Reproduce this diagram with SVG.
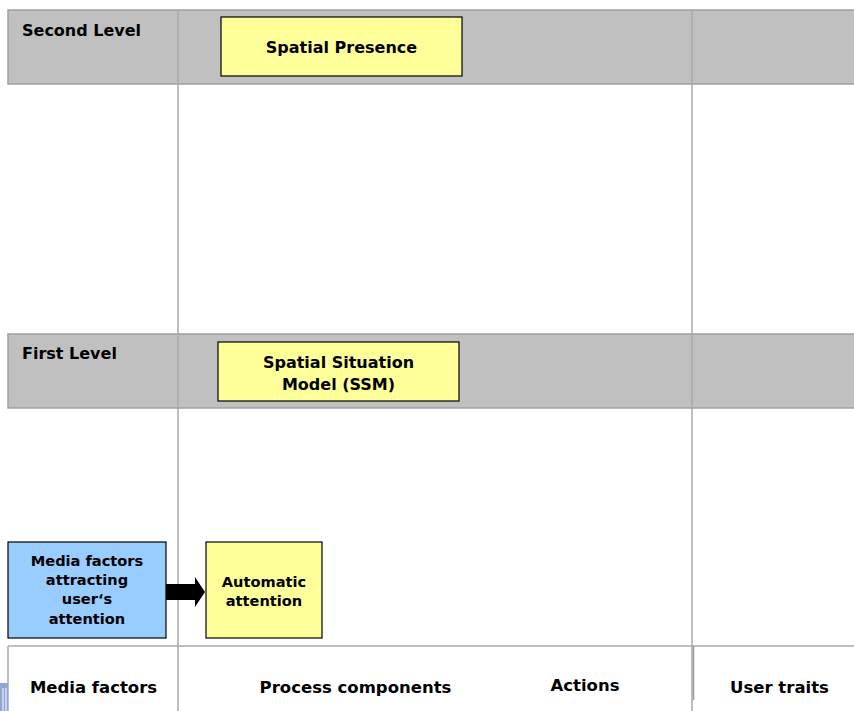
<svg xmlns="http://www.w3.org/2000/svg" width="854" height="711" viewBox="0 0 854 711">
<style>
.band{fill:#c0c0c0;stroke:#a0a0a0;stroke-width:1.5}
.grid{stroke:#aaaaaa;stroke-width:1.5;fill:none}
.node{stroke:#000;stroke-width:1.2}
.yel{fill:#ffff99}
.blue{fill:#99ccff}
text{font-family:"DejaVu Sans","Verdana",sans-serif;font-weight:bold;fill:#000}
.lbl{font-size:16px}
.nt{font-size:14.6px;text-anchor:middle}
.nt16{font-size:16px;text-anchor:middle}
.foot{font-size:16.5px;text-anchor:middle}
</style>
<rect width="854" height="711" fill="#fff"/>
<g id="lanes">
<rect class="band" x="8" y="10" width="850" height="74"/>
<rect class="band" x="8" y="334" width="850" height="74"/>
<line class="grid" x1="178" y1="10" x2="178" y2="711"/>
<line class="grid" x1="692" y1="10" x2="692" y2="711"/>
<line class="grid" x1="8" y1="646" x2="854" y2="646"/>
<line class="grid" x1="8" y1="646" x2="8" y2="711"/>
<line x1="693.5" y1="646" x2="693.5" y2="700" stroke="#999" stroke-width="1.5"/>
<rect x="0" y="683" width="8" height="28" fill="#8fa6d6"/>
<line x1="3" y1="688" x2="3" y2="711" stroke="#fff" stroke-width="1"/>
<line x1="6" y1="688" x2="6" y2="711" stroke="#fff" stroke-width="1"/>
<text class="lbl" x="22" y="36">Second Level</text>
<text class="lbl" x="22" y="359">First Level</text>
<text class="foot" x="93.5" y="693">Media factors</text>
<text class="foot" x="355.5" y="693">Process components</text>
<text class="foot" x="585" y="691">Actions</text>
<text class="foot" x="779.5" y="693">User traits</text>
</g>
<g id="spatial-presence">
<rect class="node yel" x="221" y="17" width="241" height="59"/>
<text class="nt16" x="341.5" y="53">Spatial Presence</text>
</g>
<g id="ssm">
<rect class="node yel" x="218" y="342" width="241" height="59"/>
<text class="nt16" x="338.5" y="368">Spatial Situation</text>
<text class="nt16" x="338.5" y="390">Model (SSM)</text>
</g>
<g id="media-factors">
<rect class="node blue" x="8" y="542" width="158" height="96"/>
<text class="nt" x="87" y="566">Media factors</text>
<text class="nt" x="87" y="585">attracting</text>
<text class="nt" x="87" y="604">user‘s</text>
<text class="nt" x="87" y="624">attention</text>
</g>
<g id="automatic-attention">
<rect class="node yel" x="206" y="542" width="116" height="96"/>
<text class="nt" x="264" y="587">Automatic</text>
<text class="nt" x="264" y="606">attention</text>
</g>
<g id="connectors">
<polygon points="166,584 195,584 195,577 205,592 195,607 195,600 166,600" fill="#000"/>
</g>
</svg>
